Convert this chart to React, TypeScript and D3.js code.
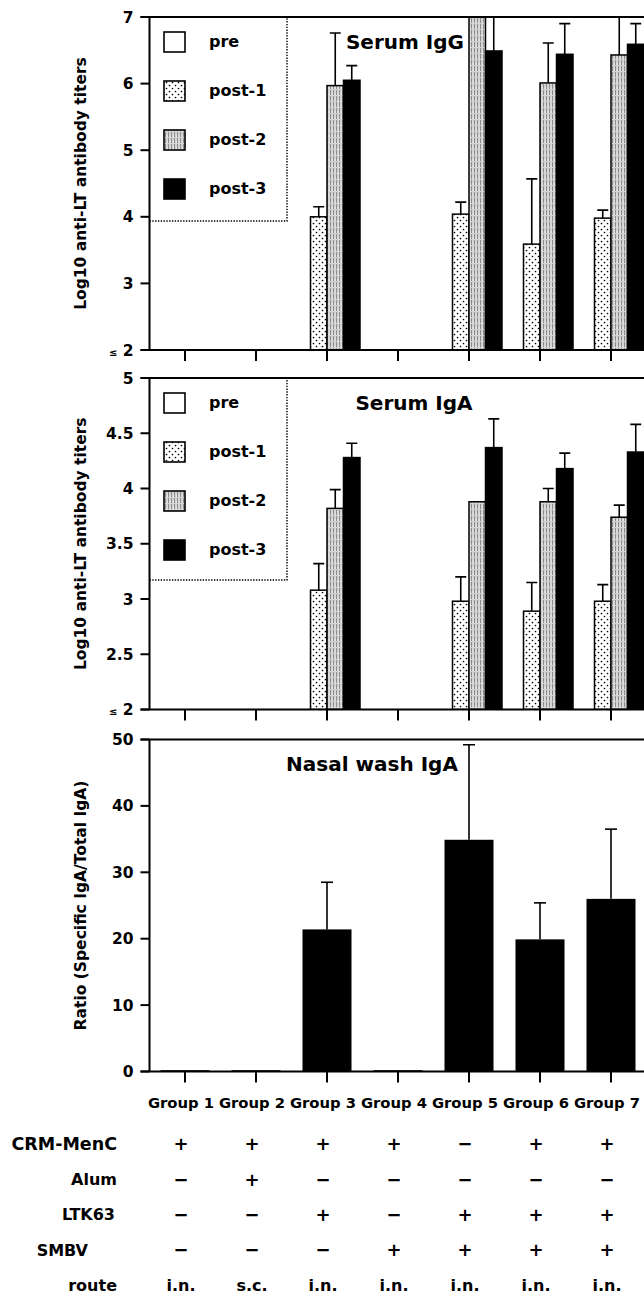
import React from "react";
import * as d3 from "d3";

// ---------- DATA ----------
const groups = ["Group 1", "Group 2", "Group 3", "Group 4", "Group 5", "Group 6", "Group 7"];
const seriesNames = ["pre", "post-1", "post-2", "post-3"];

// Serum IgG (log10 titers); null = "≤ 2" (no bar)
const iggPre = [null, null, null, null, null, null, null];
const iggPost1 = [null, null, 4.0, null, 4.04, 3.59, 3.98];
const iggPost2 = [null, null, 5.97, null, 7.3, 6.01, 6.43];
const iggPost3 = [null, null, 6.05, null, 6.49, 6.44, 6.59];
const iggErrPre = [0, 0, 0, 0, 0, 0, 0];
const iggErrPost1 = [0, 0, 0.15, 0, 0.18, 0.98, 0.12];
const iggErrPost2 = [0, 0, 0.79, 0, 0.2, 0.6, 0.8];
const iggErrPost3 = [0, 0, 0.22, 0, 0.8, 0.46, 0.31];
const iggTicks = [2, 3, 4, 5, 6, 7];
const iggTickLabels = ["≤ 2", "3", "4", "5", "6", "7"];

// Serum IgA (log10 titers)
const igaPre = [null, null, null, null, null, null, null];
const igaPost1 = [null, null, 3.08, null, 2.98, 2.89, 2.98];
const igaPost2 = [null, null, 3.82, null, 3.88, 3.88, 3.74];
const igaPost3 = [null, null, 4.28, null, 4.37, 4.18, 4.33];
const igaErrPre = [0, 0, 0, 0, 0, 0, 0];
const igaErrPost1 = [0, 0, 0.24, 0, 0.22, 0.26, 0.15];
const igaErrPost2 = [0, 0, 0.17, 0, 0, 0.12, 0.11];
const igaErrPost3 = [0, 0, 0.13, 0, 0.26, 0.14, 0.25];
const igaTicks = [2, 2.5, 3, 3.5, 4, 4.5, 5];
const igaTickLabels = ["≤ 2", "2.5", "3", "3.5", "4", "4.5", "5"];

// Nasal wash IgA ratio
const nasal = [0.2, 0.2, 21.4, 0.2, 34.9, 19.9, 26.0];
const nasalErr = [0, 0, 7.1, 0, 14.3, 5.5, 10.5];
const nasalTicks = [0, 10, 20, 30, 40, 50];
const nasalTickLabels = ["0", "10", "20", "30", "40", "50"];

// Table
const tableLabels = ["CRM-MenC", "Alum", "LTK63", "SMBV", "route"];
const rowCrm = ["+", "+", "+", "+", "−", "+", "+"];
const rowAlum = ["−", "+", "−", "−", "−", "−", "−"];
const rowLtk = ["−", "−", "+", "−", "+", "+", "+"];
const rowSmbv = ["−", "−", "−", "+", "+", "+", "+"];
const rowRoute = ["i.n.", "s.c.", "i.n.", "i.n.", "i.n.", "i.n.", "i.n."];

// ---------- LAYOUT ----------
const W = 644;
const H = 1294;
const AX = 149.5;
const STEP = 71;
const FONT = "'DejaVu Sans', sans-serif";

const x = d3.scaleBand<string>().domain(groups).range([AX, AX + STEP * groups.length]).padding(0);
const inner = d3.scaleBand<string>().domain(seriesNames).range([-33, 33]).padding(0);
const cx = (g: string) => (x(g) as number) + x.bandwidth() / 2;

const fills: Record<string, string> = {
  pre: "#ffffff",
  "post-1": "url(#dots)",
  "post-2": "url(#hatch)",
  "post-3": "#000000",
};

type PanelProps = {
  id: string;
  top: number;
  bottom: number;
  domain: [number, number];
  ticks: number[];
  tickLabels: string[];
  yTitle: string;
  title: string;
  titleX: number;
  titleY: number;
  legendBottom?: number;
  grouped?: { values: (number | null)[][]; errs: number[][] };
  single?: { values: number[]; errs: number[] };
};

function ErrorBar({ xc, y0, y1, cap }: { xc: number; y0: number; y1: number; cap: number }) {
  return (
    <g stroke="#000" strokeWidth={1.6}>
      <line x1={xc} x2={xc} y1={y0} y2={y1} />
      <line x1={xc - cap / 2} x2={xc + cap / 2} y1={y1} y2={y1} />
    </g>
  );
}

function Panel(p: PanelProps) {
  const y = d3.scaleLinear().domain(p.domain).range([p.bottom, p.top]);
  const clipId = `clip-${p.id}`;
  return (
    <g>
      <defs>
        <clipPath id={clipId}>
          <rect x={AX} y={p.top} width={W - AX} height={p.bottom - p.top} />
        </clipPath>
      </defs>
      {/* legend */}
      {p.legendBottom !== undefined && (
        <g>
          <path
            d={`M${AX},${p.legendBottom} H287 V${p.top}`}
            fill="none"
            stroke="#000"
            strokeWidth={1.4}
            strokeDasharray="1.4 1.4"
          />
          {seriesNames.map((s, i) => {
            const cy = p.top + 25 + i * 49;
            return (
              <g key={s}>
                <rect x={164} y={cy - 10} width={21} height={20} fill={fills[s]} stroke="#000" strokeWidth={1.6} />
                <text x={209} y={cy} dy="0.32em" fontSize={16} fontWeight="bold" fontFamily={FONT}>
                  {s}
                </text>
              </g>
            );
          })}
        </g>
      )}
      {/* bars */}
      <g clipPath={`url(#${clipId})`}>
        {p.grouped &&
          seriesNames.map((s, si) =>
            groups.map((g, gi) => {
              const v = p.grouped!.values[si][gi];
              if (v === null) return null;
              const bx = cx(g) + (inner(s) as number);
              const e = p.grouped!.errs[si][gi];
              return (
                <g key={s + g}>
                  <rect
                    x={bx}
                    y={y(v)}
                    width={inner.bandwidth()}
                    height={y(p.domain[0]) - y(v)}
                    fill={fills[s]}
                    stroke="#000"
                    strokeWidth={1.5}
                  />
                  {e > 0 && <ErrorBar xc={bx + inner.bandwidth() / 2} y0={y(v)} y1={y(v + e)} cap={11} />}
                </g>
              );
            })
          )}
        {p.single &&
          groups.map((g, gi) => {
            const v = p.single!.values[gi];
            const e = p.single!.errs[gi];
            const bw = 49;
            return (
              <g key={g}>
                <rect x={cx(g) - bw / 2} y={y(v)} width={bw} height={y(0) - y(v)} fill="#000" />
                {e > 0 && <ErrorBar xc={cx(g)} y0={y(v)} y1={y(v + e)} cap={12} />}
              </g>
            );
          })}
      </g>
      {/* axes */}
      <g stroke="#000" strokeWidth={2} fill="none">
        <line x1={AX} x2={AX} y1={p.top} y2={p.bottom} />
        <line x1={AX - 9} x2={W} y1={p.top} y2={p.top} />
        <line x1={AX - 9} x2={W} y1={p.bottom} y2={p.bottom} />
        {p.ticks.map((t) => (
          <line key={t} x1={AX - 9} x2={AX} y1={y(t)} y2={y(t)} />
        ))}
        {groups.map((g) => (
          <line key={g} x1={cx(g)} x2={cx(g)} y1={p.bottom} y2={p.bottom + 11} />
        ))}
      </g>
      {p.ticks.map((t, i) => {
        const lab = p.tickLabels[i];
        const le = lab.startsWith("≤");
        return (
          <text
            key={t}
            x={AX - 16}
            y={y(t)}
            dy="0.36em"
            textAnchor="end"
            fontSize={15.5}
            fontWeight="bold"
            fontFamily={FONT}
          >
            {le ? (
              <>
                <tspan fontSize={10}>≤</tspan>
                <tspan> 2</tspan>
              </>
            ) : (
              lab
            )}
          </text>
        );
      })}
      <text
        transform={`translate(86,${(p.top + p.bottom) / 2}) rotate(-90)`}
        textAnchor="middle"
        fontSize={15.5}
        fontWeight="bold"
        fontFamily={FONT}
      >
        {p.yTitle}
      </text>
      <text x={p.titleX} y={p.titleY} textAnchor="middle" fontSize={20} fontWeight="bold" fontFamily={FONT}>
        {p.title}
      </text>
    </g>
  );
}

export default function App() {
  const rows = [rowCrm, rowAlum, rowLtk, rowSmbv, rowRoute];
  const labelRight = [117, 117, 115, 88, 117];
  return (
    <div style={{ position: "absolute", left: 0, top: 0 }}>
      <svg width={W} height={H} viewBox={`0 0 ${W} ${H}`} style={{ display: "block", background: "#fff" }}>
        <defs>
          <pattern id="dots" width={6} height={6} patternUnits="userSpaceOnUse">
            <rect width={6} height={6} fill="#fff" />
            <circle cx={1.5} cy={1.5} r={0.85} fill="#000" />
            <circle cx={4.5} cy={4.5} r={0.85} fill="#000" />
          </pattern>
          <pattern id="hatch" width={3} height={6} patternUnits="userSpaceOnUse">
            <rect width={3} height={6} fill="#d4d4d4" />
            <rect x={0} y={0} width={1} height={5} fill="#8c8c8c" />
            <rect x={2} y={3} width={0.6} height={2} fill="#f2f2f2" />
          </pattern>
        </defs>
        <rect width={W} height={H} fill="#fff" />
        <Panel
          id="igg"
          top={17}
          bottom={350}
          domain={[2, 7]}
          ticks={iggTicks}
          tickLabels={iggTickLabels}
          yTitle="Log10 anti-LT antibody titers"
          title="Serum IgG"
          titleX={405}
          titleY={49}
          legendBottom={221}
          grouped={{
            values: [iggPre, iggPost1, iggPost2, iggPost3],
            errs: [iggErrPre, iggErrPost1, iggErrPost2, iggErrPost3],
          }}
        />
        <Panel
          id="iga"
          top={378}
          bottom={709.5}
          domain={[2, 5]}
          ticks={igaTicks}
          tickLabels={igaTickLabels}
          yTitle="Log10 anti-LT antibody titers"
          title="Serum IgA"
          titleX={414}
          titleY={410}
          legendBottom={580}
          grouped={{
            values: [igaPre, igaPost1, igaPost2, igaPost3],
            errs: [igaErrPre, igaErrPost1, igaErrPost2, igaErrPost3],
          }}
        />
        <Panel
          id="nasal"
          top={739.5}
          bottom={1071.5}
          domain={[0, 50]}
          ticks={nasalTicks}
          tickLabels={nasalTickLabels}
          yTitle="Ratio (Specific IgA/Total IgA)"
          title="Nasal wash IgA"
          titleX={372}
          titleY={771}
          single={{ values: nasal, errs: nasalErr }}
        />
        {groups.map((g) => (
          <text
            key={g}
            x={cx(g) - 4}
            y={1103}
            dy="0.36em"
            textAnchor="middle"
            fontSize={14.8}
            fontWeight="bold"
            fontFamily={FONT}
          >
            {g}
          </text>
        ))}
        {tableLabels.map((lab, ri) => {
          const yy = 1144 + ri * 35.3;
          return (
            <g key={lab}>
              <text
                x={labelRight[ri]}
                y={yy}
                dy="0.36em"
                textAnchor="end"
                fontSize={ri === 0 ? 17.5 : 16}
                fontWeight="bold"
                fontFamily={FONT}
              >
                {lab}
              </text>
              {rows[ri].map((c, ci) => (
                <text
                  key={ci}
                  x={cx(groups[ci]) - 4}
                  y={yy}
                  dy="0.36em"
                  textAnchor="middle"
                  fontSize={c.length === 1 ? 18 : 16}
                  fontWeight="bold"
                  fontFamily={FONT}
                >
                  {c}
                </text>
              ))}
            </g>
          );
        })}
      </svg>
    </div>
  );
}
